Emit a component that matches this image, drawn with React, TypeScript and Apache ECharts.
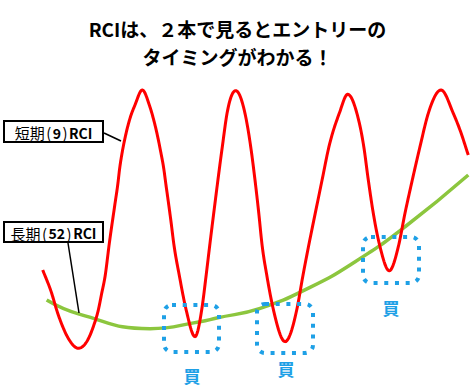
import React, { useEffect, useRef } from "react";
import * as echarts from "echarts";

// Short-term RCI(9): [time index, RCI value]
const shortRci: [number, number][] = [
  [0.63, -37.0], [2.72, -54.3], [3.88, -66.7], [5.28, -79.0], [6.81, -88.9],
  [8.91, -95.0], [11.09, -88.9], [12.4, -79.0], [13.56, -66.7], [14.35, -54.3],
  [15.12, -42.0], [16.12, -17.3], [17.51, 13.6], [18.07, 25.9], [18.53, 38.3],
  [19.14, 50.6], [19.93, 63.0], [20.93, 75.3], [22.09, 85.2], [23.79, 96.3],
  [25.42, 85.2], [26.35, 75.3], [27.28, 63.0], [28.07, 50.6], [28.77, 38.3],
  [29.3, 25.9], [29.84, 13.6], [30.47, -1.3], [31.1, -17.3], [32.45, -42.0],
  [34.0, -66.7], [36.05, -86.4], [37.6, -66.7], [38.6, -42.0], [39.53, -17.3],
  [40.4, 5.0], [42.4, 54.3], [43.5, 79.0], [45.51, 95.8],
  [47.67, 79.0], [49.0, 54.3], [50.0, 29.6], [50.88, 5.0], [51.6, -17.3],
  [52.8, -42.0], [54.3, -66.7], [57.0, -90.1], [59.7, -66.7], [61.1, -42.0],
  [65.6, 29.6], [67.2, 54.3], [69.6, 79.0],
  [71.56, 93.1], [73.7, 79.0], [75.3, 54.3], [76.35, 29.6], [77.51, 5.0],
  [79.07, -19.8], [81.23, -37.6], [83.33, -19.8], [84.88, 5.0], [86.58, 29.6],
  [88.37, 54.3], [90.3, 79.0], [93.26, 96.3], [96.12, 79.0], [97.67, 66.7],
  [99.6, 48.1],
];

// Long-term RCI(52)
const longRci: [number, number][] = [
  [1.55, -59.3], [9.3, -69.9], [25.6, -80.5], [37.2, -75.3], [41.1, -72.6],
  [51.2, -65.4], [62.8, -49.9], [73.3, -30.9], [84.9, -5.0], [99.6, 33.3],
];

const titleText = "RCIは、２本で見るとエントリーの\nタイミングがわかる！";
const buyLabel = "買";
const shortLabel = ["短期", "9"];
const longLabel = ["長期", "52"];

const BLUE = "#1ea0e6";
const FONT = "'Noto Sans CJK JP', 'Noto Sans', sans-serif";

// Monotone cubic Hermite rendering of a series through its read points
function hermiteSamples(pts: [number, number][], steps = 14): [number, number][] {
  const n = pts.length;
  const h: number[] = [];
  const s: number[] = [];
  for (let i = 0; i < n - 1; i++) {
    h[i] = pts[i + 1][0] - pts[i][0];
    s[i] = (pts[i + 1][1] - pts[i][1]) / h[i];
  }
  const m: number[] = new Array(n).fill(0);
  m[0] = s[0];
  m[n - 1] = s[n - 2];
  for (let i = 1; i < n - 1; i++) {
    if (s[i - 1] * s[i] <= 0) m[i] = 0;
    else m[i] = (s[i - 1] * h[i] + s[i] * h[i - 1]) / (h[i - 1] + h[i]);
  }
  for (let i = 0; i < n - 1; i++) {
    if (s[i] === 0) continue;
    const a = m[i] / s[i];
    const b = m[i + 1] / s[i];
    const t = a * a + b * b;
    if (t > 9) {
      const tau = 3 / Math.sqrt(t);
      m[i] = tau * a * s[i];
      m[i + 1] = tau * b * s[i];
    }
  }
  const out: [number, number][] = [];
  for (let i = 0; i < n - 1; i++) {
    const [x0, y0] = pts[i];
    const [x1, y1] = pts[i + 1];
    const hh = x1 - x0;
    for (let k = 0; k < steps; k++) {
      const t = k / steps;
      const t2 = t * t;
      const t3 = t2 * t;
      const h00 = 2 * t3 - 3 * t2 + 1;
      const h10 = t3 - 2 * t2 + t;
      const h01 = -2 * t3 + 3 * t2;
      const h11 = t3 - t2;
      out.push([x0 + hh * t, h00 * y0 + h10 * hh * m[i] + h01 * y1 + h11 * hh * m[i + 1]]);
    }
  }
  out.push(pts[n - 1]);
  return out;
}

export default function App() {
  const ref = useRef<HTMLDivElement>(null);
  useEffect(() => {
    if (!ref.current) return;
    const chart = echarts.init(ref.current, undefined, { renderer: "svg" });
    const redSamples = hermiteSamples(shortRci);

    const dotBox = (x: number, y: number, w: number, h: number) => ({
      type: "rect",
      z: 100,
      shape: { x, y, width: w, height: h, r: 8 },
      style: { fill: "none", stroke: BLUE, lineWidth: 4, lineDash: [4, 6.7] },
    });
    const buy = (x: number, y: number) => ({
      type: "text",
      z: 100,
      x,
      y,
      style: {
        text: buyLabel,
        fill: BLUE,
        font: `bold 17px ${FONT}`,
        align: "center",
        verticalAlign: "middle",
      },
    });
    const labelBox = (x: number, y: number, w: number, h: number, a: string, num: string) => [
      {
        type: "rect",
        z: 100,
        shape: { x, y, width: w, height: h },
        style: { fill: "#fff", stroke: "#000", lineWidth: 2 },
      },
      {
        type: "text",
        z: 101,
        x: x + w / 2,
        y: y + h / 2 + 1,
        style: {
          text: `{a|${a}}{p|(}{b|${num}}{p|)}{b|RCI}`,
          align: "center",
          verticalAlign: "middle",
          rich: {
            a: { fontSize: 15, fontFamily: FONT, fill: "#000", fontWeight: "normal" },
            p: { fontSize: 15, fontFamily: FONT, fill: "#000", fontWeight: "normal", padding: [0, 1.5] },
            b: { fontSize: 14, fontFamily: FONT, fill: "#000", fontWeight: "bold" },
          },
        },
      },
    ];

    chart.setOption({
      animation: false,
      backgroundColor: "#fff",
      title: {
        text: titleText,
        left: "center",
        top: 9,
        textStyle: {
          fontSize: 19,
          fontWeight: "bold",
          fontFamily: FONT,
          color: "#000",
          lineHeight: 28,
        },
      },
      grid: { left: 40, right: 5, top: 85, bottom: 37 },
      xAxis: { type: "value", min: 0, max: 100, show: false },
      yAxis: { type: "value", min: -100, max: 100, show: false },
      series: [
        {
          type: "line",
          name: "長期(52) RCI",
          data: longRci,
          smooth: 0.5,
          showSymbol: false,
          lineStyle: { color: "#8cc63e", width: 3.5 },
          z: 2,
        },
        {
          type: "custom",
          name: "短期(9) RCI",
          coordinateSystem: "cartesian2d",
          data: [shortRci[0]],
          encode: { x: 0, y: 1 },
          silent: true,
          z: 3,
          renderItem: (_params: any, api: any) => ({
            type: "polyline",
            shape: { points: redSamples.map((p) => api.coord(p)) },
            style: { stroke: "#ff0000", lineWidth: 3, fill: "none", lineJoin: "round" },
          }),
        },
      ],
      graphic: [
        ...labelBox(4, 121, 99, 21, shortLabel[0], shortLabel[1]),
        { type: "line", z: 100, shape: { x1: 104, y1: 133, x2: 121, y2: 141 }, style: { stroke: "#000", lineWidth: 1.5 } },
        ...labelBox(4, 222, 99, 20, longLabel[0], longLabel[1]),
        { type: "line", z: 100, shape: { x1: 68, y1: 243, x2: 79, y2: 313 }, style: { stroke: "#000", lineWidth: 1.5 } },
        dotBox(164, 305, 55, 47),
        dotBox(257, 304, 56, 49),
        dotBox(363, 237, 56, 46),
        buy(192, 375),
        buy(286, 368),
        buy(391, 307),
      ],
    });
    return () => chart.dispose();
  }, []);
  return (
    <div
      ref={ref}
      style={{ position: "absolute", left: 0, top: 0, width: 475, height: 392 }}
    />
  );
}
